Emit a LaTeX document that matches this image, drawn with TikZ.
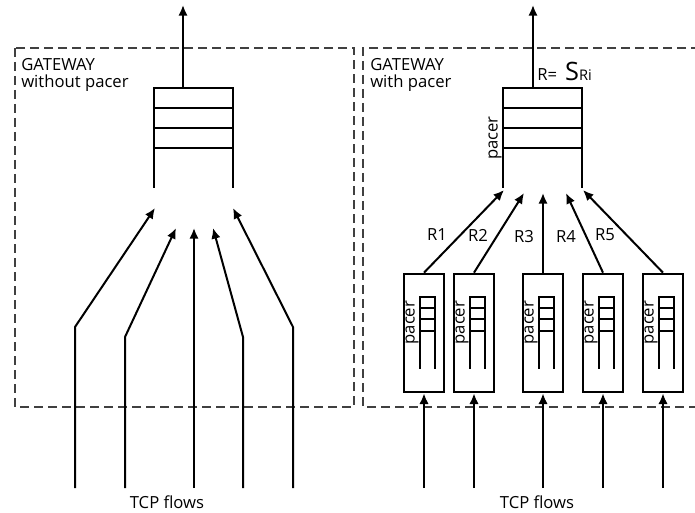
\documentclass[tikz,border=0pt]{standalone}
\usepackage{fontspec}
\setmainfont{Open Sans}
\usetikzlibrary{arrows.meta,calc,positioning}
\tikzset{
  gwbox/.style={draw=black!75,line width=1.2pt,dash pattern=on 6.5pt off 4pt},
  qline/.style={line width=1.6pt},
  iqline/.style={line width=1.3pt},
  edge/.style={-{Latex[length=8pt,width=7pt]},line width=1.5pt},
  pacerbox/.style={draw,line width=1.5pt,minimum width=30pt,minimum height=89pt,inner sep=0pt},
  lbl/.style={inner sep=0pt},
  every node/.style={font=\fontsize{12.5}{12.5}\selectfont}
}

\begin{document}
\begin{tikzpicture}[x=0.75pt,y=-0.75pt]
\useasboundingbox (0,0) rectangle (695,513);

% gateway without pacer
\draw[gwbox] (15,48) rectangle (354,407);
\node[lbl,anchor=north west,align=left] (gwl) at (21,58) {GATEWAY\\without pacer};
\draw[qline] (154,188) -- (154,88) -- (233,88) -- (233,188);
\foreach \y in {108,128,148}
  \draw[qline] (154,\y) -- (233,\y);
\coordinate (inl) at (183,88);
\coordinate (outl) at (183,5);
\draw[edge] (inl) -- (outl);
\foreach \n/\xb/\yk/\xt/\yt in {1/75/327/155/208, 2/125/337/176/228, 3/194/337/194/228, 4/243/337/213/228, 5/293/327/233/208}{
  \coordinate (fl\n) at (\xb,488);
  \coordinate (tl\n) at (\xt,\yt);
  \draw[edge] (fl\n) -- (\xb,\yk) -- (tl\n);
}
\node (tcpl) at (167,502) {TCP flows};

% gateway with pacer
\draw[gwbox] (700,48) -- (363,48) -- (363,407) -- (700,407);
\node[lbl,anchor=north west,align=left] (gwr) at (370,58) {GATEWAY\\with pacer};
\draw[qline] (503,188) -- (503,88) -- (582,88) -- (582,188);
\foreach \y in {108,128,148}
  \draw[qline] (503,\y) -- (582,\y);
\coordinate (inr) at (533,88);
\coordinate (outr) at (533,5);
\draw[edge] (inr) -- (outr);
\node[lbl,anchor=base west] (rsum) at (537,81) {R=\hspace{6pt}{\fontsize{19}{19}\selectfont S}{\fontsize{11}{11}\selectfont Ri}};
\node[lbl,rotate=90] (pq) at (495,138) {pacer};

\foreach \n/\x/\xt/\yt/\lx/\ly in {1/424/504/190/437/235, 2/474/524/193/478/235, 3/543/543/193/524/237, 4/603/566/193/566/237, 5/663/583/190/605/235}{
  \node[pacerbox] (p\n) at (\x,333) {};
  \draw[iqline] ($(p\n.north west)+(17,96)$) -- ++(0,-72) -- ++(15,0) -- ++(0,72);
  \foreach \d in {35,46,58}
    \draw[iqline] ($(p\n.north west)+(17,\d)$) -- ++(15,0);
  \node[lbl,rotate=90] (pl\n) at ($(p\n.north west)+(9,50)$) {pacer};
  \coordinate (f\n) at (\x,488);
  \draw[edge] (f\n) -- (p\n.south);
  \coordinate (t\n) at (\xt,\yt);
  \draw[edge] (p\n.north) -- (t\n);
  \node (r\n) at (\lx,\ly) {R\n};
}
\node (tcpr) at (537,502) {TCP flows};
\end{tikzpicture}
\end{document}
